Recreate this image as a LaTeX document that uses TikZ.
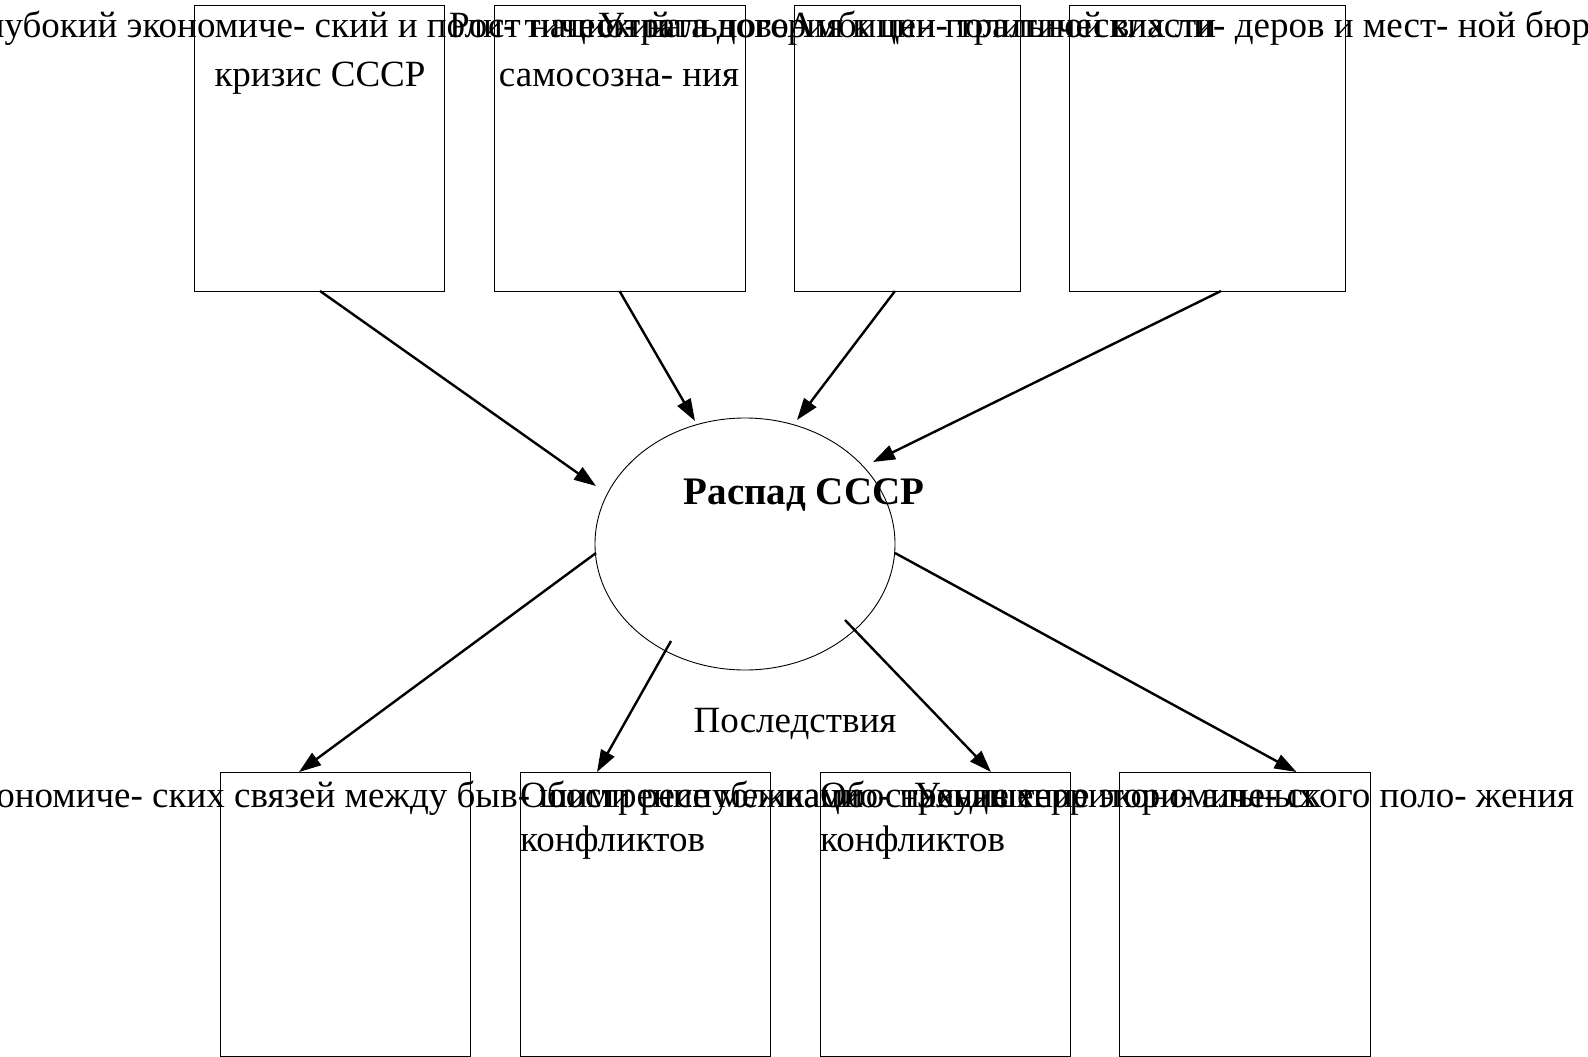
\documentclass[tikz,border=0pt]{standalone}
\usepackage{fontspec}
\setmainfont{Liberation Serif}
\usetikzlibrary{shapes.geometric,arrows.meta,calc}
\begin{document}
\begin{tikzpicture}[x=1pt,y=-1pt,
  box/.style={draw, line width=0.9pt, inner sep=0pt, outer sep=0pt, anchor=north west},
  txt/.style={font=\fontsize{37}{44}\selectfont, inner sep=0pt, anchor=base},
  txtl/.style={txt, anchor=base west},
  arr/.style={line width=2.4pt, -{Triangle[length=22pt,width=15pt]}}]
\useasboundingbox (0,0) rectangle (1588,1057);
% top boxes
\node[box, minimum width=250pt, minimum height=286pt] (t1) at (194,5) {};
\node[box, minimum width=251pt, minimum height=286pt] (t2) at (494,5) {};
\node[box, minimum width=226pt, minimum height=286pt] (t3) at (794,5) {};
\node[box, minimum width=276pt, minimum height=286pt] (t4) at (1069,5) {};
% bottom boxes
\node[box, minimum width=250pt, minimum height=284pt] (b1) at (220,772) {};
\node[box, minimum width=250pt, minimum height=284pt] (b2) at (520,772) {};
\node[box, minimum width=250pt, minimum height=284pt] (b3) at (820,772) {};
\node[box, minimum width=251pt, minimum height=284pt] (b4) at (1119,772) {};
% ellipse
\node[draw, ellipse, line width=0.9pt, minimum width=300pt, minimum height=252pt, inner sep=0pt] (e) at (745,544) {};
\node[font=\bfseries\fontsize{39}{44}\selectfont, anchor=base, inner sep=0pt] (r) at (804,504) {Распад СССР};
\node[txt] (p) at (795,732) {Последствия};
% top texts
\node[txt] (t1a) at (319,38) {Глубокий экономиче- ский и поли- тический};
\node[txt] (t1b) at (320,86) {кризис СССР};
\node[txt] (t2a) at (619,38) {Рост нацио- нального};
\node[txt] (t2b) at (619,86) {самосозна- ния};
\node[txt] (t3a) at (907,38) {Утрата доверия к цен- тральной власти};
\node[txt] (t4a) at (1252,38) {Амбиции политических ли- деров и мест- ной бюрократии};
% bottom texts
\node[txt] (b1a) at (353,807) {Разрыв экономиче- ских связей между быв- шими республиками};
\node[txtl] (b2a) at (520,807) {Обострение межнацио- нальных};
\node[txtl] (b2b) at (520,851) {конфликтов};
\node[txtl] (b3a) at (820,807) {Обострение территори- альных};
\node[txtl] (b3b) at (820,851) {конфликтов};
\node[txt] (b4a) at (1244,807) {Ухудшение экономиче- ского поло- жения};
% connector points on the ellipse
\coordinate (e1) at (596,486);
\coordinate (e2) at (695,421);
\coordinate (e3) at (797,420);
\coordinate (e4) at (873,462);
\coordinate (s1) at (596,553);
\coordinate (s2) at (671,641);
\coordinate (s3) at (845,620);
\coordinate (s4) at (895,553);
% arrows
\draw[arr] ($(t1.south)+(1,0)$) -- (e1);
\draw[arr] (t2.south) -- (e2);
\draw[arr] ($(t3.south)+(-12,0)$) -- (e3);
\draw[arr] ($(t4.south)+(14,0)$) -- (e4);
\draw[arr] (s1) -- ($(b1.north)+(-46,0)$);
\draw[arr] (s2) -- ($(b2.north)+(-48,0)$);
\draw[arr] (s3) -- ($(b3.north)+(46,0)$);
\draw[arr] (s4) -- ($(b4.north)+(52,0)$);
\end{tikzpicture}
\end{document}
